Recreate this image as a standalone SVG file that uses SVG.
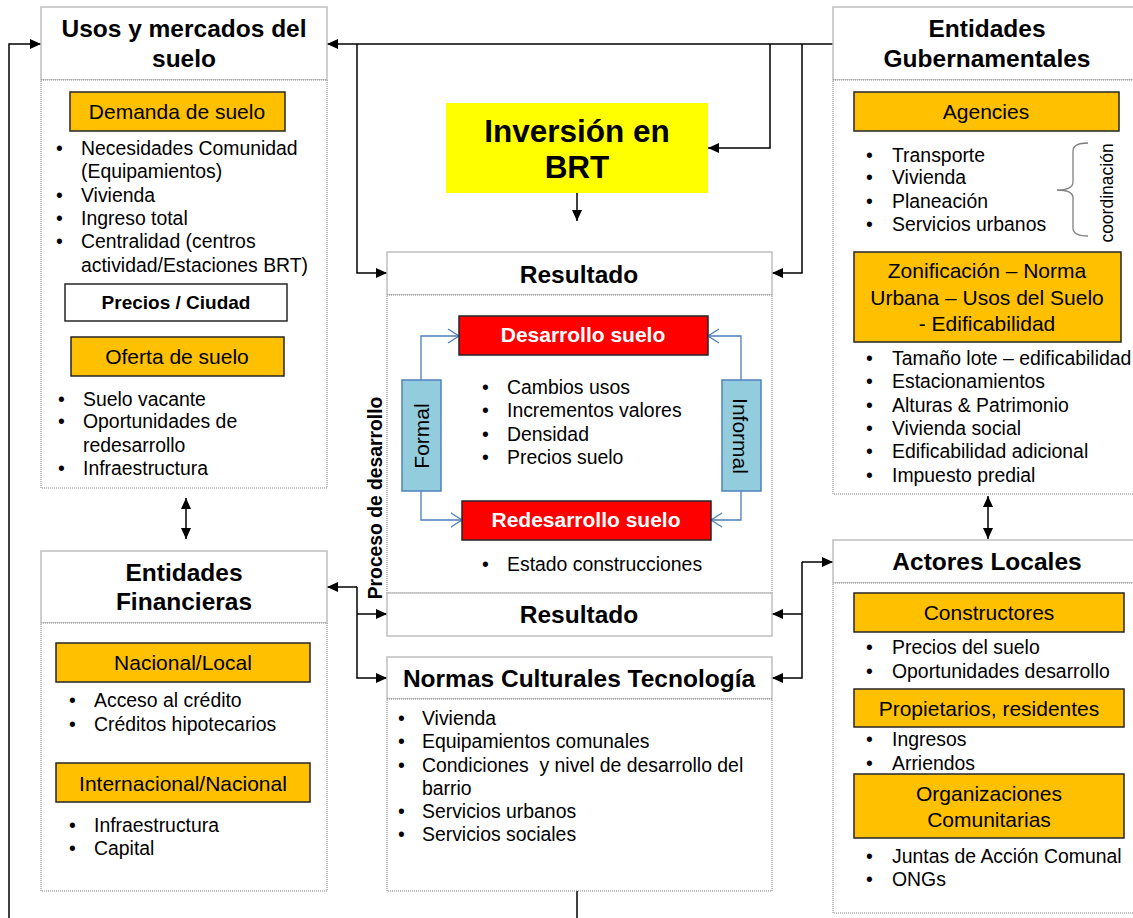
<svg xmlns="http://www.w3.org/2000/svg" width="1133" height="918" viewBox="0 0 1133 918">
<defs>
<style>
text{font-family:"Liberation Sans",Arial,sans-serif;fill:#000}
.hd{fill:#fff;stroke:#bfbfbf;stroke-width:1.5}
.bd{fill:#fff;stroke:#7f7f7f;stroke-width:1;stroke-dasharray:1 1}
.or{fill:#ffc000;stroke:#262626;stroke-width:1.5}
.rd{fill:#ff0000;stroke:#262626;stroke-width:1.5}
.bl{fill:#93cddd;stroke:#4f81bd;stroke-width:1.5}
.t{font-size:24.5px;font-weight:bold;text-anchor:middle}
.o{font-size:21px;text-anchor:middle}
.b{font-size:19.4px}
.w{font-size:21px;font-weight:bold;fill:#fff;text-anchor:middle}
.ln{fill:none;stroke:#000;stroke-width:1.5}
.bln{fill:none;stroke:#4a7ebb;stroke-width:1.3}
</style>
<marker id="ah" markerUnits="userSpaceOnUse" markerWidth="12" markerHeight="10" refX="11" refY="5" orient="auto-start-reverse"><path d="M0,0 L11,5 L0,10 z" fill="#000"/></marker>
<marker id="bh" markerUnits="userSpaceOnUse" markerWidth="12" markerHeight="10" refX="11" refY="5" orient="auto-start-reverse"><path d="M0,0 L11,5 L0,10 z" fill="#4a7ebb"/></marker>
<marker id="ch" markerUnits="userSpaceOnUse" markerWidth="14" markerHeight="16" refX="12" refY="8" orient="auto"><path d="M1,1 L12,8 L1,15" fill="none" stroke="#4a7ebb" stroke-width="1.3"/></marker>
</defs>
<rect width="1133" height="918" fill="#fff"/>

<g id="connectors">
<path class="ln" d="M9,918 V44 H41" marker-end="url(#ah)"/>
<path class="ln" d="M833,44 H327" marker-end="url(#ah)"/>
<path class="ln" d="M357,44 V273 H387" marker-end="url(#ah)"/>
<path class="ln" d="M770,44 V148 H708" marker-end="url(#ah)"/>
<path class="ln" d="M802,44 V273 H772" marker-end="url(#ah)"/>
<path class="ln" d="M577,186 V221" marker-end="url(#ah)"/>
<path class="ln" d="M186,498 V539" marker-start="url(#ah)" marker-end="url(#ah)"/>
<path class="ln" d="M357,587 H327" marker-end="url(#ah)"/>
<path class="ln" d="M357,587 V678 H387" marker-end="url(#ah)"/>
<path class="ln" d="M357,614 H387" marker-end="url(#ah)"/>
<path class="ln" d="M988,496 V539" marker-start="url(#ah)" marker-end="url(#ah)"/>
<path class="ln" d="M802,562 H833" marker-end="url(#ah)"/>
<path class="ln" d="M802,562 V678 H772" marker-end="url(#ah)"/>
<path class="ln" d="M802,614 H772" marker-end="url(#ah)"/>
<path class="ln" d="M577,891 V918"/>
<path class="bln" d="M310,287 V340" marker-start="url(#bh)" marker-end="url(#bh)"/>
</g>

<g id="usos">
<rect class="hd" x="41" y="7" width="286" height="73"/>
<rect class="bd" x="41" y="80" width="286" height="408"/>
<text class="t" x="184" y="37">Usos y mercados del</text>
<text class="t" x="184" y="67">suelo</text>
<rect class="or" x="70" y="92" width="215" height="39"/>
<text class="o" x="177" y="119">Demanda de suelo</text>
<g class="b">
<text x="56" y="155">•</text><text x="81" y="155">Necesidades Comunidad</text>
<text x="81" y="178">(Equipamientos)</text>
<text x="56" y="202">•</text><text x="81" y="202">Vivienda</text>
<text x="56" y="225">•</text><text x="81" y="225">Ingreso total</text>
<text x="56" y="248">•</text><text x="81" y="248">Centralidad (centros</text>
<text x="81" y="272">actividad/Estaciones BRT)</text>
</g>
<rect x="65" y="284" width="222" height="37" fill="#fff" stroke="#262626" stroke-width="1.5"/>
<text x="176" y="309" font-size="19px" font-weight="bold" text-anchor="middle">Precios / Ciudad</text>
<rect class="or" x="71" y="337" width="213" height="39"/>
<text class="o" x="177" y="364">Oferta de suelo</text>
<g class="b">
<text x="58" y="406">•</text><text x="83" y="406">Suelo vacante</text>
<text x="58" y="428">•</text><text x="83" y="428">Oportunidades de</text>
<text x="83" y="452">redesarrollo</text>
<text x="58" y="475">•</text><text x="83" y="475">Infraestructura</text>
</g>
</g>

<g id="financieras">
<rect class="hd" x="41" y="551" width="286" height="72"/>
<rect class="bd" x="41" y="623" width="286" height="268"/>
<text class="t" x="184" y="581">Entidades</text>
<text class="t" x="184" y="610">Financieras</text>
<rect class="or" x="56" y="643" width="254" height="39"/>
<text class="o" x="183" y="670">Nacional/Local</text>
<g class="b">
<text x="69" y="707">•</text><text x="94" y="707">Acceso al crédito</text>
<text x="69" y="731">•</text><text x="94" y="731">Créditos hipotecarios</text>
</g>
<rect class="or" x="56" y="763" width="254" height="39"/>
<text class="o" x="183" y="791">Internacional/Nacional</text>
<g class="b">
<text x="69" y="832">•</text><text x="94" y="832">Infraestructura</text>
<text x="69" y="855">•</text><text x="94" y="855">Capital</text>
</g>
</g>

<g id="inversion">
<rect x="446" y="103" width="262" height="90" fill="#ffff00"/>
<text x="577" y="142" font-size="31.5px" font-weight="bold" text-anchor="middle">Inversión en</text>
<text x="577" y="178" font-size="31.5px" font-weight="bold" text-anchor="middle">BRT</text>
</g>

<g id="proceso">
<rect class="hd" x="387" y="252" width="385" height="43"/>
<rect class="bd" x="387" y="295" width="385" height="298"/>
<rect class="hd" x="387" y="593" width="385" height="43"/>
<text class="t" x="579" y="283">Resultado</text>
<text class="t" x="579" y="623">Resultado</text>
<text transform="translate(382,498) rotate(-90)" font-size="19.3px" font-weight="bold" text-anchor="middle">Proceso de desarrollo</text>
<path class="bln" d="M421,380 V336 H459" marker-end="url(#ch)"/>
<path class="bln" d="M421,491 V520 H462" marker-end="url(#ch)"/>
<path class="bln" d="M741,380 V336 H708" marker-end="url(#ch)"/>
<path class="bln" d="M741,491 V520 H711" marker-end="url(#ch)"/>
<rect class="rd" x="459" y="316" width="249" height="39"/>
<text class="w" x="583" y="342">Desarrollo suelo</text>
<rect class="rd" x="462" y="501" width="249" height="39"/>
<text class="w" x="586" y="527">Redesarrollo suelo</text>
<rect class="bl" x="402" y="380" width="39" height="111"/>
<text transform="translate(429,436) rotate(-90)" font-size="21px" text-anchor="middle">Formal</text>
<rect class="bl" x="722" y="380" width="39" height="111"/>
<text transform="translate(733,436) rotate(90)" font-size="21px" text-anchor="middle">Informal</text>
<g class="b">
<text x="482" y="394">•</text><text x="507" y="394">Cambios usos</text>
<text x="482" y="417">•</text><text x="507" y="417">Incrementos valores</text>
<text x="482" y="441">•</text><text x="507" y="441">Densidad</text>
<text x="482" y="464">•</text><text x="507" y="464">Precios suelo</text>
<text x="482" y="571">•</text><text x="507" y="571">Estado construcciones</text>
</g>
</g>

<g id="normas">
<rect class="hd" x="387" y="657" width="385" height="42"/>
<rect class="bd" x="387" y="699" width="385" height="192"/>
<text class="t" x="579" y="687">Normas Culturales Tecnología</text>
<g class="b">
<text x="398" y="725">•</text><text x="422" y="725">Vivienda</text>
<text x="398" y="748">•</text><text x="422" y="748">Equipamientos comunales</text>
<text x="398" y="772">•</text><text x="422" y="772" xml:space="preserve">Condiciones  y nivel de desarrollo del</text>
<text x="422" y="795">barrio</text>
<text x="398" y="818">•</text><text x="422" y="818">Servicios urbanos</text>
<text x="398" y="841">•</text><text x="422" y="841">Servicios sociales</text>
</g>
</g>

<g id="gubernamentales">
<rect class="hd" x="833" y="7" width="308" height="73"/>
<rect class="bd" x="833" y="80" width="308" height="414"/>
<text class="t" x="987" y="37">Entidades</text>
<text class="t" x="987" y="67">Gubernamentales</text>
<rect class="or" x="854" y="92" width="265" height="39"/>
<text class="o" x="986" y="119">Agencies</text>
<g class="b">
<text x="866" y="162">•</text><text x="892" y="162">Transporte</text>
<text x="866" y="184">•</text><text x="892" y="184">Vivienda</text>
<text x="866" y="208">•</text><text x="892" y="208">Planeación</text>
<text x="866" y="231">•</text><text x="892" y="231">Servicios urbanos</text>
</g>
<path d="M1088,143 Q1073,143 1073,151 V182 Q1073,190 1057,190 Q1073,190 1073,198 V228 Q1073,236 1088,236" fill="none" stroke="#7f7f7f" stroke-width="1.3"/>
<text transform="translate(1113,193) rotate(-90)" font-size="17.5px" text-anchor="middle">coordinación</text>
<rect class="or" x="854" y="252" width="267" height="90"/>
<text class="o" x="987" y="278">Zonificación – Norma</text>
<text class="o" x="987" y="305">Urbana – Usos del Suelo</text>
<text class="o" x="987" y="331">- Edificabilidad</text>
<g class="b">
<text x="866" y="365">•</text><text x="892" y="365">Tamaño lote – edificabilidad</text>
<text x="866" y="388">•</text><text x="892" y="388">Estacionamientos</text>
<text x="866" y="412">•</text><text x="892" y="412">Alturas &amp; Patrimonio</text>
<text x="866" y="435">•</text><text x="892" y="435">Vivienda social</text>
<text x="866" y="458">•</text><text x="892" y="458">Edificabilidad adicional</text>
<text x="866" y="482">•</text><text x="892" y="482">Impuesto predial</text>
</g>
</g>

<g id="actores">
<rect class="hd" x="833" y="540" width="308" height="43"/>
<rect class="bd" x="833" y="583" width="308" height="330"/>
<text class="t" x="987" y="570">Actores Locales</text>
<rect class="or" x="854" y="593" width="270" height="39"/>
<text class="o" x="989" y="620">Constructores</text>
<g class="b">
<text x="866" y="654">•</text><text x="892" y="654">Precios del suelo</text>
<text x="866" y="678">•</text><text x="892" y="678">Oportunidades desarrollo</text>
</g>
<rect class="or" x="854" y="689" width="270" height="38"/>
<text class="o" x="989" y="716">Propietarios, residentes</text>
<g class="b">
<text x="866" y="746">•</text><text x="892" y="746">Ingresos</text>
<text x="866" y="770">•</text><text x="892" y="770">Arriendos</text>
</g>
<rect class="or" x="854" y="774" width="270" height="64"/>
<text class="o" x="989" y="801">Organizaciones</text>
<text class="o" x="989" y="827">Comunitarias</text>
<g class="b">
<text x="866" y="863">•</text><text x="892" y="863">Juntas de Acción Comunal</text>
<text x="866" y="886">•</text><text x="892" y="886">ONGs</text>
</g>
</g>
</svg>
